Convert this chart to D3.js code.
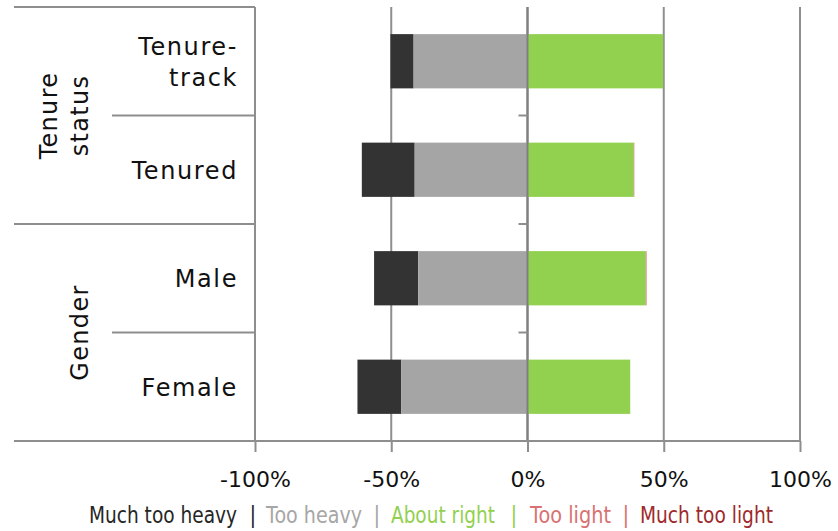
<!DOCTYPE html>
<html>
<head>
<meta charset="utf-8">
<script src="https://cdn.jsdelivr.net/npm/d3@7"></script>
<style>
  html, body { margin: 0; padding: 0; background: #fff; }
  svg { display: block; }
  text { font-family: "DejaVu Sans", sans-serif; }
</style>
</head>
<body>
<svg id="chart" width="838" height="531"></svg>
<script>
// ---- data ----
const categories = ["Tenure-track", "Tenured", "Male", "Female"];
const categoryLabelLines = [["Tenure-", "track"], ["Tenured"], ["Male"], ["Female"]];
const groupLabels = [["Tenure", "status"], ["Gender"]];
const groupMembers = [["Tenure-track", "Tenured"], ["Male", "Female"]];
const seriesNames = ["Much too heavy", "Too heavy", "About right", "Too light", "Much too light"];
const muchTooHeavy = [8.5, 19.4, 16.2, 16.1];
const tooHeavy = [41.8, 41.4, 40.1, 46.3];
const aboutRight = [49.8, 39.0, 43.4, 37.7];
const tooLight = [0, 0.2, 0.3, 0];
const muchTooLight = [0, 0, 0, 0];
const tickValues = [-100, -50, 0, 50, 100];
const colors = ["#333333", "#a5a5a5", "#92d050", "#da7474", "#a0292b"];
const legendTextColors = ["#262626", "#a6a6a6", "#92d050", "#d87272", "#9e2a2b"];

// ---- layout ----
const svg = d3.select("#chart");
const plotLeft = 255, plotRight = 800, plotTop = 7, plotBottom = 441;
const outerLeft = 14, innerLeft = 112;

const x = d3.scaleLinear().domain([-100, 100]).range([plotLeft, plotRight]);
const y = d3.scaleBand().domain(categories).range([plotTop, plotBottom])
  .paddingInner(0.5).paddingOuter(0.25);

const gridColor = "#8e8e8e";

// gridlines
svg.append("g").selectAll("line").data(tickValues).join("line")
  .attr("x1", d => x(d)).attr("x2", d => x(d))
  .attr("y1", plotTop).attr("y2", plotBottom)
  .attr("stroke", d => d === 0 ? "#808080" : gridColor)
  .attr("stroke-width", 2);

// bars
const rows = categories.map((c, i) => ({
  cat: c,
  segs: [
    { s: 0, x0: -(tooHeavy[i] + muchTooHeavy[i]), x1: -tooHeavy[i] },
    { s: 1, x0: -tooHeavy[i], x1: 0 },
    { s: 2, x0: 0, x1: aboutRight[i] },
    { s: 3, x0: aboutRight[i], x1: aboutRight[i] + tooLight[i] },
    { s: 4, x0: aboutRight[i] + tooLight[i], x1: aboutRight[i] + tooLight[i] + muchTooLight[i] }
  ]
}));
const barG = svg.append("g");
rows.forEach(r => {
  barG.selectAll(null).data(r.segs.filter(s => s.x1 > s.x0)).join("rect")
    .attr("x", s => x(s.x0))
    .attr("width", s => x(s.x1) - x(s.x0))
    .attr("y", y(r.cat))
    .attr("height", y.bandwidth())
    .attr("fill", s => colors[s.s]);
});

// redraw zero line over bars
svg.append("line")
  .attr("x1", x(0)).attr("x2", x(0)).attr("y1", plotTop).attr("y2", plotBottom)
  .attr("stroke", "#808080").attr("stroke-width", 2);

// category-boundary ticks on zero axis
const boundaries = [];
for (let i = 0; i < categories.length - 1; i++) {
  boundaries.push((y(categories[i]) + y.bandwidth() + y(categories[i + 1])) / 2);
}
svg.append("g").selectAll("line").data(boundaries).join("line")
  .attr("x1", x(0) - 9).attr("x2", x(0))
  .attr("y1", d => d).attr("y2", d => d)
  .attr("stroke", gridColor).attr("stroke-width", 2);

// bottom axis
const xAxis = d3.axisBottom(x).tickValues(tickValues).tickSize(11)
  .tickFormat(d => d + "%");
const axG = svg.append("g").attr("transform", `translate(0,${plotBottom})`).call(xAxis);
axG.select(".domain").remove();
axG.selectAll(".tick line").attr("stroke", gridColor).attr("stroke-width", 2);
axG.selectAll(".tick text")
  .attr("y", 46).attr("dy", 0)
  .attr("font-family", "DejaVu Sans, sans-serif")
  .attr("font-size", 22).attr("fill", "#111");
svg.append("line")
  .attr("x1", outerLeft).attr("x2", plotRight).attr("y1", plotBottom).attr("y2", plotBottom)
  .attr("stroke", gridColor).attr("stroke-width", 2);

// left category table lines
const bandTop = c => y(c) - y.step() * y.paddingInner() / 2;
svg.append("line")
  .attr("x1", outerLeft).attr("x2", plotLeft).attr("y1", plotTop).attr("y2", plotTop)
  .attr("stroke", gridColor).attr("stroke-width", 2);
groupMembers.forEach((members, gi) => {
  members.forEach((c, mi) => {
    if (mi > 0) {
      const yy = bandTop(c);
      svg.append("line").attr("x1", innerLeft).attr("x2", plotLeft)
        .attr("y1", yy).attr("y2", yy).attr("stroke", gridColor).attr("stroke-width", 2);
    }
  });
  if (gi > 0) {
    const yy = bandTop(members[0]);
    svg.append("line").attr("x1", outerLeft).attr("x2", plotLeft)
      .attr("y1", yy).attr("y2", yy).attr("stroke", gridColor).attr("stroke-width", 2);
  }
});

// category labels
categories.forEach((c, i) => {
  const lines = categoryLabelLines[i];
  const cy = y(c) + y.bandwidth() / 2;
  const lh = 31;
  const t = svg.append("text")
    .attr("text-anchor", "end")
    .attr("font-size", 24)
    .attr("letter-spacing", 1.6)
    .attr("fill", "#111");
  lines.forEach((ln, li) => {
    t.append("tspan")
      .attr("x", 238)
      .attr("y", cy + 9 + (li - (lines.length - 1) / 2) * lh)
      .text(ln);
  });
});

// group labels (rotated)
const groupBaselineX = [[57, 88], [88]];
groupLabels.forEach((lines, gi) => {
  const members = groupMembers[gi];
  const top = bandTop(members[0]);
  const bottom = bandTop(members[members.length - 1]) + y.step();
  const cy = (top + bottom) / 2;
  lines.forEach((ln, li) => {
    svg.append("text")
      .attr("transform", `translate(${groupBaselineX[gi][li]},${cy}) rotate(-90)`)
      .attr("text-anchor", "middle")
      .attr("font-size", 24)
      .attr("letter-spacing", 1.3)
      .attr("fill", "#111")
      .text(ln);
  });
});

// legend: a single line of coloured tspans, slightly stretched vertically
const legendX = [[89, 237], [266, 362], [391, 495], [530, 611], [640, 773]];
const sepX = [252, 376, 513, 625];
const legendBaseline = 523;
const legend = svg.append("text")
  .attr("transform", `translate(0,${legendBaseline}) scale(1,1.14)`)
  .attr("y", 0)
  .attr("font-family", "Liberation Sans, Arial, sans-serif")
  .attr("font-size", 20);
seriesNames.forEach((name, i) => {
  legend.append("tspan")
    .attr("x", legendX[i][0])
    .attr("textLength", legendX[i][1] - legendX[i][0])
    .attr("lengthAdjust", "spacingAndGlyphs")
    .attr("fill", legendTextColors[i])
    .text(name);
  if (i < sepX.length) {
    legend.append("tspan").attr("x", sepX[i] - 2.5)
      .attr("fill", legendTextColors[i]).text("|");
  }
});
</script>
</body>
</html>
